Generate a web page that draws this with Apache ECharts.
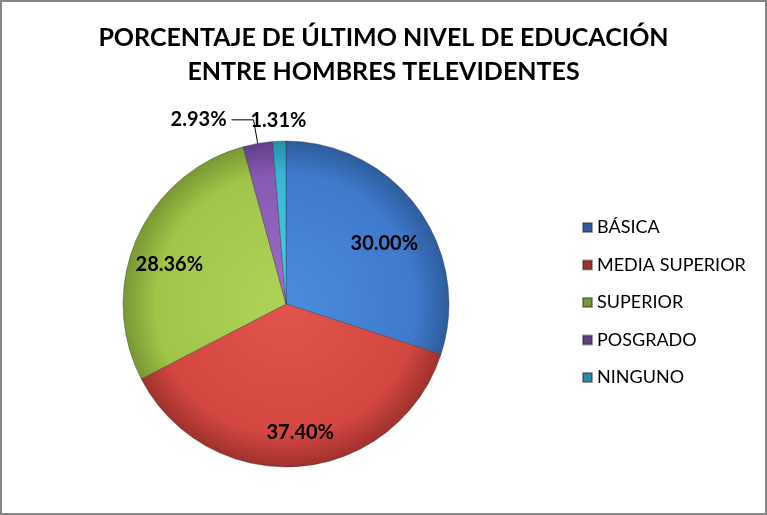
<!DOCTYPE html>
<html>
<head>
<meta charset="utf-8">
<script src="https://cdn.jsdelivr.net/npm/echarts@6/dist/echarts.min.js"></script>
<style>
html,body{margin:0;padding:0;background:#fff;}
#c{width:767px;height:515px;box-sizing:border-box;border:2px solid #868686;}
</style>
</head>
<body>
<div id="c"></div>
<script>
const titleLines = ['PORCENTAJE DE ÚLTIMO NIVEL DE EDUCACIÓN', 'ENTRE HOMBRES TELEVIDENTES'];
const categories = ['BÁSICA', 'MEDIA SUPERIOR', 'SUPERIOR', 'POSGRADO', 'NINGUNO'];
const values = [30.00, 37.40, 28.36, 2.93, 1.31];
const labelTexts = ['30.00%', '37.40%', '28.36%', '2.93%', '1.31%'];
const insideLabelIdx = [0, 1, 2];
const leaderLabelIdx = [3];
const ringLabelIdx = [4];
const palette = [
  ['#4C8CDC', '#3F7ACB', '#2E5C9C'],
  ['#E2554F', '#D44741', '#A0312D'],
  ['#AFD358', '#A0C548', '#789833'],
  ['#9B70C7', '#8659B5', '#603F88'],
  ['#52CDE5', '#37B6D3', '#248EA6']
];
// small label nudges (style only) for inside labels
const insideNudge = {0: [-3, 13], 1: [4, 4], 2: [-2, 11]};

const chart = echarts.init(document.getElementById('c'), null, {renderer: 'canvas'});
const CX = 284, CY = 302, R = 163;

function grad(i) {
  const p = palette[i];
  return {
    type: 'radial', x: CX, y: CY, r: R, global: true,
    colorStops: [
      {offset: 0, color: p[0]},
      {offset: 0.8, color: p[1]},
      {offset: 1, color: p[2]}
    ]
  };
}

const mainData = categories.map((n, i) => ({
  name: n, value: values[i],
  itemStyle: {color: grad(i)},
  label: {show: leaderLabelIdx.includes(i), formatter: labelTexts[i]},
  labelLine: {show: leaderLabelIdx.includes(i)}
}));
const insideData = categories.map((n, i) => ({
  name: n, value: values[i],
  label: {show: insideLabelIdx.includes(i), formatter: labelTexts[i]}
}));
const ringData = categories.map((n, i) => ({
  name: n, value: values[i],
  label: {show: ringLabelIdx.includes(i), formatter: labelTexts[i]}
}));

const labelFont = {fontFamily: 'Lato', fontWeight: 'bold', fontSize: 20, color: '#000'};

chart.setOption({
  animation: false,
  color: palette.map(p => p[1]),
  title: {
    text: titleLines.join('\n'),
    left: 'center', top: 14,
    textStyle: {fontFamily: 'Lato', fontWeight: 'bold', fontSize: 25, lineHeight: 34, color: '#000'}
  },
  legend: {
    orient: 'vertical', left: 580, top: 216, padding: 0,
    data: categories,
    icon: 'rect', itemWidth: 9, itemHeight: 9, itemGap: 18.5,
    textStyle: {fontFamily: 'Lato', fontSize: 18, lineHeight: 19, color: '#000', padding: [0, 0, 0, 0]}
  },
  series: [
    {
      type: 'pie', name: 'main', center: [CX, CY], radius: [0, R],
      startAngle: 90, clockwise: true,
      data: mainData,
      itemStyle: {borderColor: 'rgba(40,40,40,0.45)', borderWidth: 0.8},
      label: Object.assign({position: 'outside'}, labelFont),
      labelLine: {length: 24, length2: 22, lineStyle: {color: '#000', width: 1}},
      emphasis: {disabled: true}
    },
    {
      type: 'pie', name: 'inner', center: [CX, CY], radius: [R * 0.5, R],
      startAngle: 90, clockwise: true, silent: true,
      data: insideData,
      itemStyle: {color: 'rgba(0,0,0,0)', borderWidth: 0},
      label: Object.assign({position: 'inside'}, labelFont),
      labelLine: {show: false},
      labelLayout: function (p) {
        const n = insideNudge[p.dataIndex];
        return n ? {dx: n[0], dy: n[1]} : {};
      },
      emphasis: {disabled: true}
    },
    {
      type: 'pie', name: 'ring', center: [CX, CY], radius: [R + 10, R + 26],
      startAngle: 90, clockwise: true, silent: true,
      data: ringData,
      itemStyle: {color: 'rgba(0,0,0,0)', borderWidth: 0},
      label: Object.assign({position: 'inside'}, labelFont),
      labelLine: {show: false},
      emphasis: {disabled: true}
    }
  ]
});
</script>
</body>
</html>
